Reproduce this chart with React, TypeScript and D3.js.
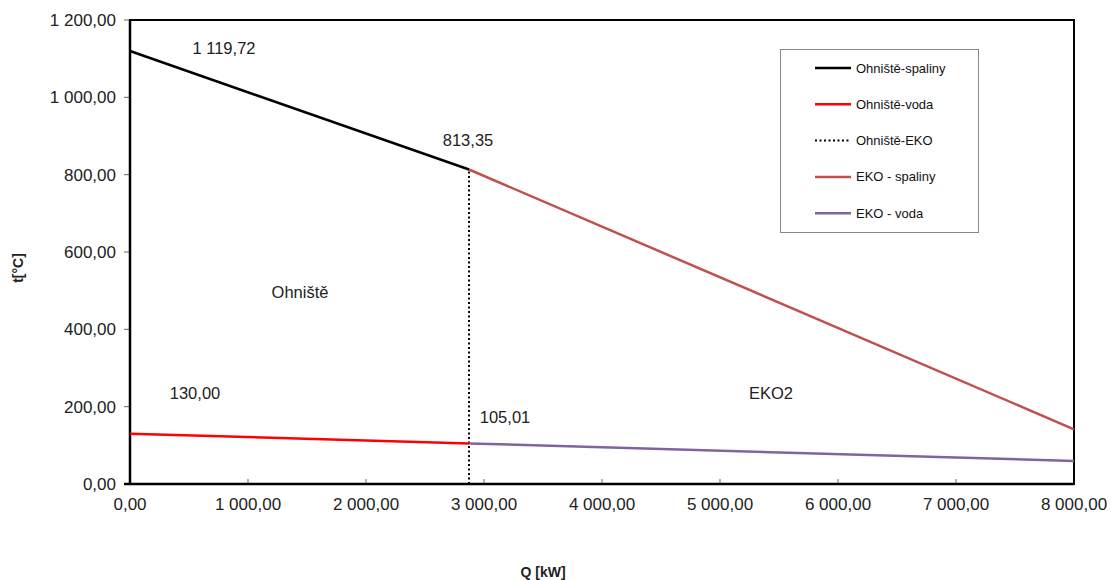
import React from 'react';
import * as d3 from 'd3';

const qBreak = 2873;
const qEnd = 8000;
const ohnisteSpaliny = [[0, 1119.72], [qBreak, 813.35]];
const ohnisteVoda = [[0, 130.0], [qBreak, 105.01]];
const ohnisteEko = [[qBreak, 0], [qBreak, 813.35]];
const ekoSpaliny = [[qBreak, 813.35], [qEnd, 141.5]];
const ekoVoda = [[qBreak, 105.01], [qEnd, 59.5]];

const xTicks = [0, 1000, 2000, 3000, 4000, 5000, 6000, 7000, 8000];
const yTicks = [0, 200, 400, 600, 800, 1000, 1200];

const legendItems = [
  { name: 'Ohniště-spaliny', color: '#000000', dash: '' },
  { name: 'Ohniště-voda', color: '#ff0000', dash: '' },
  { name: 'Ohniště-EKO', color: '#000000', dash: '2,2.5' },
  { name: 'EKO - spaliny', color: '#c0504d', dash: '' },
  { name: 'EKO - voda', color: '#8064a2', dash: '' },
];

const fmt = (v: number) => {
  const s = v.toFixed(2).replace('.', ',');
  const [i, f] = s.split(',');
  return i.replace(/\B(?=(\d{3})+(?!\d))/g, ' ') + ',' + f;
};

const App = () => {
  const left = 130, right = 1074, top = 20, bottom = 484;
  const x = d3.scaleLinear().domain([0, 8000]).range([left, right]);
  const y = d3.scaleLinear().domain([0, 1200]).range([bottom, top]);
  const line = d3.line<number[]>().x(d => x(d[0])).y(d => y(d[1]));
  const font = "'Liberation Sans', Arial, sans-serif";

  return (
    <svg width={1116} height={580} style={{ position: 'absolute', left: 0, top: 0, fontFamily: font }}>
      <rect width={1116} height={580} fill="#fff" />
      {yTicks.map(t => (
        <g key={'y' + t}>
          <line x1={left - 6} x2={left} y1={y(t)} y2={y(t)} stroke="#666" />
          <text x={left - 14} y={y(t)} dy="0.35em" textAnchor="end" fontSize={17} fill="#222">{fmt(t)}</text>
        </g>
      ))}
      {xTicks.map(t => (
        <g key={'x' + t}>
          <line x1={x(t)} x2={x(t)} y1={bottom - 5} y2={bottom} stroke="#666" />
          <text x={x(t)} y={bottom + 26} textAnchor="middle" fontSize={17} fill="#222">{fmt(t)}</text>
        </g>
      ))}
      <rect x={left} y={top} width={right - left} height={bottom - top} fill="none" stroke="#000" strokeWidth={2} />
      <line x1={left} x2={left} y1={top} y2={bottom + 1} stroke="#000" strokeWidth={2.5} />
      <line x1={left - 6} x2={right} y1={bottom} y2={bottom} stroke="#000" strokeWidth={2.5} />

      <path d={line(ohnisteEko as any) || ''} stroke="#000" strokeWidth={2} strokeDasharray="2,2.5" fill="none" />
      <path d={line(ekoSpaliny as any) || ''} stroke="#c0504d" strokeWidth={2.5} fill="none" />
      <path d={line(ekoVoda as any) || ''} stroke="#8064a2" strokeWidth={2.5} fill="none" />
      <path d={line(ohnisteSpaliny as any) || ''} stroke="#000" strokeWidth={2.5} fill="none" />
      <path d={line(ohnisteVoda as any) || ''} stroke="#ff0000" strokeWidth={2.5} fill="none" />

      <g fontSize={16.5} fill="#222">
        <text x={224} y={54} textAnchor="middle">1 119,72</text>
        <text x={468} y={146} textAnchor="middle">813,35</text>
        <text x={195} y={399} textAnchor="middle">130,00</text>
        <text x={505} y={423} textAnchor="middle">105,01</text>
        <text x={300} y={298} textAnchor="middle">Ohniště</text>
        <text x={771} y={399} textAnchor="middle">EKO2</text>
      </g>

      <rect x={780.5} y={49.5} width={198} height={183} fill="#fff" stroke="#888" />
      {legendItems.map((it, i) => {
        const ly = 68 + i * 36.3;
        return (
          <g key={it.name}>
            <line x1={815} x2={851} y1={ly} y2={ly} stroke={it.color} strokeWidth={it.dash ? 2 : 2.5} strokeDasharray={it.dash || undefined} />
            <text x={856} y={ly} dy="0.35em" fontSize={13} fill="#111">{it.name}</text>
          </g>
        );
      })}

      <text transform={`translate(23,${268}) rotate(-90)`} textAnchor="middle" fontSize={14} fontWeight="bold" fill="#222">t[°C]</text>
      <text x={543} y={577} textAnchor="middle" fontSize={14} fontWeight="bold" fill="#222">Q [kW]</text>
    </svg>
  );
};

export default App;
